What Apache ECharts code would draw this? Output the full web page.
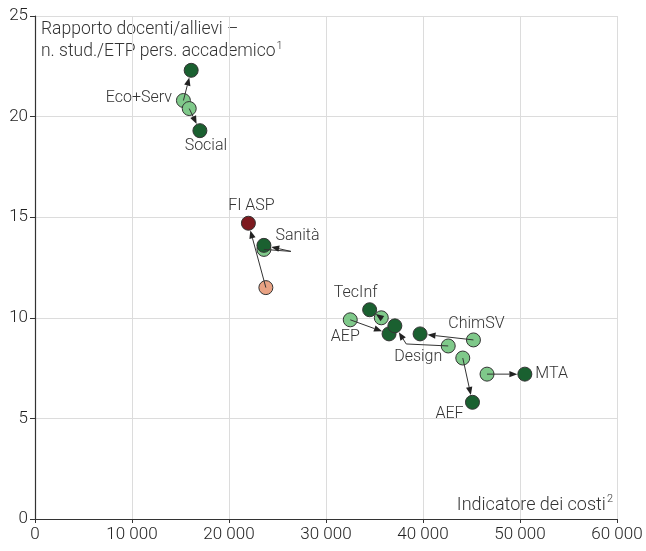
<!DOCTYPE html>
<html>
<head>
<meta charset="utf-8">
<script src="https://cdn.jsdelivr.net/npm/echarts@6/dist/echarts.min.js"></script>
<style>
    html, body { margin: 0; padding: 0; background: #fff; }
    #chart { width: 646px; height: 551px; }
</style>
</head>
<body>
<div id="chart"></div>
<script>
// gruppi (dal punto chiaro = anno precedente al punto scuro = anno recente)
const groups = ['Eco+Serv', 'Social', 'FI ASP', 'Sanità', 'TecInf', 'AEP', 'Design', 'ChimSV', 'AEF', 'MTA'];
const costOld  = [15300, 15900, 23800, 23600, 35700, 32500, 42600, 45200, 44100, 46600];
const ratioOld = [20.8, 20.4, 11.5, 13.4, 10.0, 9.9, 8.6, 8.9, 8.0, 7.2];
const costNew  = [16100, 17000, 22000, 23600, 34500, 36500, 37100, 39700, 45100, 50500];
const ratioNew = [22.3, 19.3, 14.7, 13.6, 10.4, 9.2, 9.6, 9.2, 5.8, 7.2];
const xTicks = [0, 10000, 20000, 30000, 40000, 50000, 60000];
const yTicks = [0, 5, 10, 15, 20, 25];

const FONT = 'Roboto';
const W = 300;
const R = 7; // raggio dei cerchi

// etichette: su quale punto e dove
const labelPos = {
    'Eco+Serv': { on: 'old', position: 'left', offset: [-1, -3] },
    'Social':   { on: 'new', position: 'bottom', offset: [6, -3] },
    'FI ASP':   { on: 'new', position: 'top', offset: [3, 1] },
    'Sanità':   { on: 'new', position: 'right', offset: [1, -9] },
    'TecInf':   { on: 'new', position: 'top', offset: [-14, 2] },
    'AEP':      { on: 'old', position: 'bottom', offset: [-5, -1] },
    'Design':   { on: 'old', position: 'bottom', offset: [-30, -7] },
    'ChimSV':   { on: 'old', position: 'top', offset: [3, 3] },
    'AEF':      { on: 'new', position: 'bottom', offset: [-23, -7] },
    'MTA':      { on: 'new', position: 'right', offset: [0, 0] }
};
// piegature delle frecce (px rispetto al punto di partenza)
const bends = {
    'Design': [-42, -2],
    'Sanità': [27, 2]
};

function fmt(v) {
    return String(v).replace(/\B(?=(\d{3})+(?!\d))/g, ' ');
}

function colorOf(name, which) {
    if (name === 'FI ASP') return which === 'old' ? '#e8a283' : '#7d1a1f';
    return which === 'old' ? '#7fc98a' : '#1a6030';
}

function points(which) {
    const xs = which === 'old' ? costOld : costNew;
    const ys = which === 'old' ? ratioOld : ratioNew;
    return groups.map((g, i) => {
        const lp = labelPos[g];
        const item = {
            name: g,
            value: [xs[i], ys[i]],
            itemStyle: { color: colorOf(g, which) }
        };
        if (lp && lp.on === which) {
            item.label = {
                show: true,
                formatter: g,
                position: lp.position,
                offset: lp.offset,
                distance: 3,
                fontFamily: FONT,
                fontWeight: W,
                fontSize: 16,
                color: '#333'
            };
        }
        return item;
    });
}

const arrowData = groups.map((g, i) => ({ name: g, value: [costOld[i], ratioOld[i], costNew[i], ratioNew[i]] }));

function renderArrow(params, api) {
    const name = groups[params.dataIndex];
    const p0 = api.coord([api.value(0), api.value(1)]);
    const p1 = api.coord([api.value(2), api.value(3)]);
    const pts = [p0];
    if (bends[name]) pts.push([p0[0] + bends[name][0], p0[1] + bends[name][1]]);
    const prev = pts[pts.length - 1];
    const dx = p1[0] - prev[0], dy = p1[1] - prev[1];
    const len = Math.sqrt(dx * dx + dy * dy) || 1;
    const ux = dx / len, uy = dy / len;
    const tip = [p1[0] - ux * (R + 0.5), p1[1] - uy * (R + 0.5)];
    const hl = 8, hw = 3.2;
    const base = [tip[0] - ux * hl, tip[1] - uy * hl];
    pts.push(base);
    return {
        type: 'group',
        children: [
            {
                type: 'polyline',
                shape: { points: pts },
                style: { stroke: '#333', lineWidth: 1, fill: null }
            },
            {
                type: 'polygon',
                shape: {
                    points: [
                        tip,
                        [base[0] - uy * hw, base[1] + ux * hw],
                        [base[0] + uy * hw, base[1] - ux * hw]
                    ]
                },
                style: { fill: '#222' }
            }
        ]
    };
}

const chart = echarts.init(document.getElementById('chart'));
chart.setOption({
    animation: false,
    grid: { left: 35, top: 16, right: 29, bottom: 32 },
    xAxis: {
        type: 'value',
        min: xTicks[0],
        max: xTicks[xTicks.length - 1],
        interval: xTicks[1] - xTicks[0],
        axisLine: { lineStyle: { color: '#333', width: 1.2 } },
        axisTick: { show: true, length: 4, lineStyle: { color: '#333' } },
        axisLabel: { formatter: fmt, fontFamily: FONT, fontWeight: W, fontSize: 17, color: '#222', margin: 7, showMaxLabel: true },
        splitLine: { show: true, lineStyle: { color: '#dcdcdc' } }
    },
    yAxis: {
        type: 'value',
        min: yTicks[0],
        max: yTicks[yTicks.length - 1],
        interval: yTicks[1] - yTicks[0],
        axisLine: { show: true, lineStyle: { color: '#333', width: 1.2 } },
        axisTick: { show: true, length: 5, lineStyle: { color: '#333' } },
        axisLabel: { fontFamily: FONT, fontWeight: W, fontSize: 17, color: '#222', margin: 7 },
        splitLine: { show: true, lineStyle: { color: '#dcdcdc' } }
    },
    graphic: [
        {
            type: 'text',
            left: 41,
            top: 21,
            style: {
                text: '{a|Rapporto docenti/allievi –}\n{a|n. stud./ETP pers. accademico}{s|1}',
                rich: {
                    a: { fontFamily: FONT, fontWeight: W, fontSize: 17.5, fill: '#333', lineHeight: 21 },
                    s: { fontFamily: FONT, fontWeight: W, fontSize: 11, fill: '#333', verticalAlign: 'top', padding: [0, 0, 11, 1] }
                }
            }
        },
        {
            type: 'text',
            right: 33,
            top: 494,
            style: {
                text: '{a|Indicatore dei costi}{s|2}',
                rich: {
                    a: { fontFamily: FONT, fontWeight: W, fontSize: 18, fill: '#333' },
                    s: { fontFamily: FONT, fontWeight: W, fontSize: 11, fill: '#333', padding: [0, 0, 11, 1] }
                }
            }
        }
    ],
    series: [
        {
            type: 'scatter',
            symbol: 'circle',
            symbolSize: R * 2,
            itemStyle: { borderColor: '#333', borderWidth: 1, opacity: 1 },
            data: points('old'),
            z: 2
        },
        {
            type: 'scatter',
            symbol: 'circle',
            symbolSize: R * 2,
            itemStyle: { borderColor: '#333', borderWidth: 1, opacity: 1 },
            data: points('new'),
            z: 3
        },
        {
            type: 'custom',
            renderItem: renderArrow,
            data: arrowData,
            z: 4,
            silent: true
        }
    ]
});
</script>
</body>
</html>
